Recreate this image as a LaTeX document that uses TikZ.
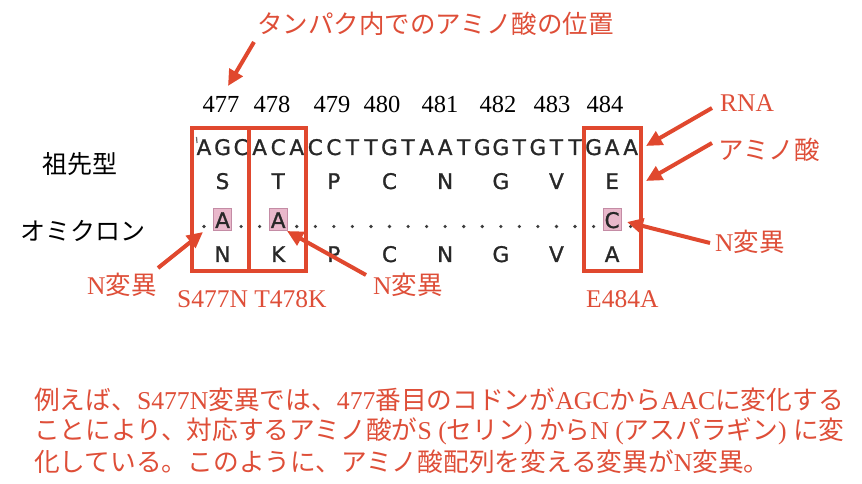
\documentclass[tikz,border=0pt]{standalone}
\usepackage{fontspec}
\setmainfont{Liberation Serif}
\newfontfamily\cjk{Noto Sans CJK JP}
\newfontfamily\seqf[FakeBold=1.2]{DejaVu Sans}
\usetikzlibrary{arrows.meta}
\newcommand{\J}[1]{{\cjk #1}}
\definecolor{myred}{RGB}{224,72,46}
\definecolor{txtred}{RGB}{222,78,56}
\definecolor{seqgrey}{RGB}{40,40,40}
\definecolor{pinkfill}{RGB}{233,184,203}
\definecolor{pinkdraw}{RGB}{196,140,165}
\tikzset{
  redarrow/.style={draw=myred, line width=4bp, -{Triangle[length=16bp,width=15bp]}},
  redbox/.style={draw=myred, line width=4bp},
  seqletter/.style={anchor=base, inner sep=0pt, text=seqgrey, font=\seqf\fontsize{21.5bp}{25bp}\selectfont},
  posnum/.style={anchor=base, inner sep=0pt, font=\fontsize{24.5bp}{29bp}\selectfont},
  redlabel/.style={inner sep=0pt, text=txtred, font=\fontsize{25.5bp}{30bp}\selectfont},
  paraline/.style={inner sep=0pt, anchor=west, text=txtred, font=\fontsize{25.7bp}{30bp}\selectfont},
  blacklabel/.style={inner sep=0pt, text=black, font=\cjk\fontsize{25bp}{30bp}\selectfont},
  mutbox/.style={draw=pinkdraw, fill=pinkfill, line width=1bp, minimum width=18bp, minimum height=22bp, inner sep=0pt},
  seqdot/.style={circle, fill=seqgrey!90, inner sep=0pt, minimum size=3.6bp}
}
\begin{document}
\begin{tikzpicture}[x=1bp,y=-1bp]
\useasboundingbox (0,0) rectangle (862,484);

% title
\node[redlabel, anchor=west, font=\cjk\fontsize{25.5bp}{30bp}\selectfont] (title) at (257,24) {タンパク内でのアミノ酸の位置};
\coordinate (titleA) at (254,42);
\coordinate (titleB) at (228,86);
\draw[redarrow] (titleA) -- (titleB);

% position numbers
\foreach \n/\x in {477/221,478/272,479/332,480/382,481/440,482/498,483/552,484/605}{
  \node[posnum] (num\n) at (\x,113) {\n};
}

% row labels
\node[blacklabel] (ancestor) at (80,164) {祖先型};
\node[blacklabel] (omicron) at (83,231) {オミクロン};

% mutation highlight boxes
\node[mutbox] (mutA) at ({204+18.55*1},220) {};
\node[mutbox] (mutB) at ({204+18.55*4},220) {};
\node[mutbox] (mutC) at ({204+18.55*22},220) {};

% RNA row
\draw[seqgrey!70, line width=1.2bp] (196.5,137) -- (197,143);
\foreach \c [count=\i from 0] in {A,G,C,A,C,A,C,C,T,T,G,T,A,A,T,G,G,T,G,T,T,G,A,A}{
  \node[seqletter] (r\i) at ({204+18.55*\i},155) {\c};
}
% ancestral amino acids
\foreach \c [count=\k from 0] in {S,T,P,C,N,G,V,E}{
  \node[seqletter] (aa\k) at ({204+18.55*(3*\k+1)},189) {\c};
}
% omicron row: dots and mutated bases
\foreach \i in {0,2,3,5,6,7,8,9,10,11,12,13,14,15,16,17,18,19,20,21,23}{
  \node[seqdot] (d\i) at ({204+18.55*\i},226.5) {};
}
\node[seqletter] (mA) at ({204+18.55*1},228) {A};
\node[seqletter] (mB) at ({204+18.55*4},228) {A};
\node[seqletter] (mC) at ({204+18.55*22},228) {C};
% omicron amino acids
\foreach \c [count=\k from 0] in {N,K,P,C,N,G,V,A}{
  \node[seqletter] (ab\k) at ({204+18.55*(3*\k+1)},262) {\c};
}

% red boxes
\draw[redbox] (192,128) rectangle (249,271);
\draw[redbox] (249,128) rectangle (306,271);
\draw[redbox] (584,128) rectangle (641,271);

% right labels
\node[redlabel, anchor=base west] (rna) at (720,112) {RNA};
\node[redlabel, anchor=west] (amino) at (718,150) {\J{アミノ酸}};
\node[redlabel, anchor=west] (nmutR) at (715,242) {N\J{変異}};
\coordinate (rnaA) at (712,108);   \coordinate (rnaB) at (646,146);
\coordinate (amA) at (712,143);    \coordinate (amB) at (646,181);
\coordinate (nrA) at (710,243);    \coordinate (nrB) at (627,222);
\draw[redarrow] (rnaA) -- (rnaB);
\draw[redarrow] (amA) -- (amB);
\draw[redarrow] (nrA) -- (nrB);

% bottom labels
\node[redlabel, anchor=west] (nmutL) at (87,285) {N\J{変異}};
\node[redlabel, anchor=west] (nmutM) at (373,285) {N\J{変異}};
\coordinate (nlA) at (158,268);  \coordinate (nlB) at (203,232);
\coordinate (nmA) at (366,275);  \coordinate (nmB) at (287,231);
\draw[redarrow] (nlA) -- (nlB);
\draw[redarrow] (nmA) -- (nmB);
\node[redlabel, anchor=base west] (st) at (177,308) {S477N T478K};
\node[redlabel, anchor=base west] (ea) at (586,308) {E484A};

% paragraph
\node[paraline] (p1) at (34,400)
  {\J{例えば、}S477N\J{変異では、}477\J{番目のコドンが}AGC\J{から}AAC\J{に変化する}};
\node[paraline] (p2) at (34,431)
  {\J{ことにより、対応するアミノ酸が}S (\J{セリン}) \J{から}N (\J{アスパラギン}) \J{に変}};
\node[paraline] (p3) at (34,462)
  {\J{化している。このように、アミノ酸配列を変える変異が}N\J{変異。}};
\end{tikzpicture}
\end{document}
